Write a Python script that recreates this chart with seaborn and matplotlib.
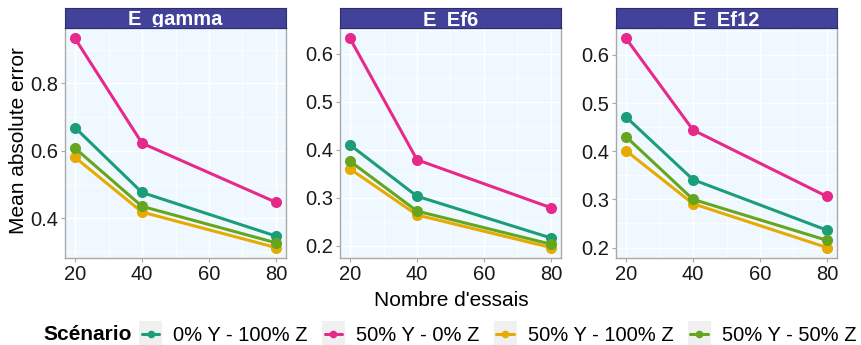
import numpy as np
import pandas as pd
import matplotlib
matplotlib.use("Agg")
import matplotlib.pyplot as plt
from matplotlib.lines import Line2D
from matplotlib.patches import Rectangle
from matplotlib.legend_handler import HandlerBase
from matplotlib.ticker import MultipleLocator
import seaborn as sns

sns.set_theme(style="white")
plt.rcParams["font.family"] = ["Liberation Sans", "DejaVu Sans"]
plt.rcParams["text.color"] = "black"

# Data
essais = [20, 40, 80]
panels = ["E_gamma", "E_Ef6", "E_Ef12"]
scenarios = ["0% Y - 100% Z", "50% Y - 0% Z", "50% Y - 100% Z", "50% Y - 50% Z"]
colors = ["#1B9E77", "#E7298A", "#E6AB02", "#66A61E"]

gamma_0Y_100Z = [0.669, 0.477, 0.348]
gamma_50Y_0Z = [0.933, 0.623, 0.448]
gamma_50Y_100Z = [0.581, 0.419, 0.314]
gamma_50Y_50Z = [0.608, 0.436, 0.328]

ef6_0Y_100Z = [0.410, 0.303, 0.216]
ef6_50Y_0Z = [0.632, 0.379, 0.279]
ef6_50Y_100Z = [0.360, 0.264, 0.196]
ef6_50Y_50Z = [0.376, 0.272, 0.203]

ef12_0Y_100Z = [0.471, 0.341, 0.236]
ef12_50Y_0Z = [0.634, 0.444, 0.306]
ef12_50Y_100Z = [0.401, 0.291, 0.200]
ef12_50Y_50Z = [0.430, 0.300, 0.215]

series = {
    "E_gamma": [gamma_0Y_100Z, gamma_50Y_0Z, gamma_50Y_100Z, gamma_50Y_50Z],
    "E_Ef6": [ef6_0Y_100Z, ef6_50Y_0Z, ef6_50Y_100Z, ef6_50Y_50Z],
    "E_Ef12": [ef12_0Y_100Z, ef12_50Y_0Z, ef12_50Y_100Z, ef12_50Y_50Z],
}

rows = []
for p in panels:
    for s, vals in zip(scenarios, series[p]):
        for x, v in zip(essais, vals):
            rows.append({"panel": p, "Scénario": s, "essais": x, "mae": v})
df = pd.DataFrame(rows)

W, H = 862, 345
fig = plt.figure(figsize=(W / 100, H / 100), dpi=100)


def px_axes(x0, y0, x1, y1):
    return fig.add_axes([x0 / W, 1 - y1 / H, (x1 - x0) / W, (y1 - y0) / H])


panel_x = [(65, 286), (340, 561), (616, 837)]
top, bottom = 28, 258
strip_top = 8
palette = dict(zip(scenarios, colors))
border = "#A9A9A9"

for (x0, x1), p in zip(panel_x, panels):
    ax = px_axes(x0, top, x1, bottom)
    ax.set_facecolor("#F0F8FF")
    sub = df[df["panel"] == p]
    sns.lineplot(data=sub, x="essais", y="mae", hue="Scénario", palette=palette,
                 hue_order=scenarios, marker="o", markersize=8, markeredgewidth=0,
                 linewidth=2.2, legend=False, ax=ax, zorder=3)
    lo, hi = sub["mae"].min(), sub["mae"].max()
    pad = (hi - lo) * 0.05
    ax.set_ylim(lo - pad, hi + pad)
    ax.set_xlim(17, 83)
    ax.set_xticks([20, 40, 60, 80])
    ax.xaxis.set_minor_locator(MultipleLocator(10))
    if p == "E_gamma":
        ax.yaxis.set_major_locator(MultipleLocator(0.2))
        ax.yaxis.set_minor_locator(MultipleLocator(0.1))
    else:
        ax.yaxis.set_major_locator(MultipleLocator(0.1))
        ax.yaxis.set_minor_locator(MultipleLocator(0.05))
    ax.grid(which="major", color="white", linewidth=1.0, zorder=0)
    ax.grid(which="minor", color="white", linewidth=0.5, zorder=0)
    ax.set_axisbelow(True)
    for sp in ax.spines.values():
        sp.set_color(border)
        sp.set_linewidth(1.0)
    ax.tick_params(axis="both", which="major", length=3, width=0.8, color=border,
                   labelsize=14.5, labelcolor="#1A1A1A", pad=2, bottom=True, left=True)
    ax.tick_params(axis="both", which="minor", length=0)
    ax.set_xlabel("")
    ax.set_ylabel("")

    # facet strip
    st = px_axes(x0, strip_top, x1, top)
    st.set_facecolor("#43429A")
    st.set_xticks([])
    st.set_yticks([])
    for sp in st.spines.values():
        sp.set_color("#2E2E6E")
        sp.set_linewidth(0.8)
    t = st.text(0.5, 0.15, p, transform=st.transAxes, ha="center", va="baseline",
                color="white", fontsize=14.5, fontweight="bold")
    # label is cut off just under its baseline, like a tight facet strip
    clip = Rectangle((x0 / W, 1 - 27 / H), (x1 - x0) / W, 19 / H,
                     transform=fig.transFigure)
    t.set_clip_path(clip)
    t.set_clip_on(True)

fig.text(451 / W, 1 - 301 / H, "Nombre d'essais", ha="center", va="center",
         fontsize=15, color="black")
fig.text(19 / W, 1 - 141 / H, "Mean absolute error", ha="center", va="center",
         rotation=90, fontsize=15, color="black")


class KeyHandler(HandlerBase):
    def create_artists(self, legend, orig_handle, xdescent, ydescent, width,
                       height, fontsize, trans):
        c = orig_handle.get_color()
        box = Rectangle((-xdescent, -ydescent - 0.2 * height), width, height * 1.4,
                        facecolor="#F0F0F0", edgecolor="none", transform=trans)
        yc = -ydescent + height / 2
        ln = Line2D([-xdescent + 2, -xdescent + width - 2], [yc, yc], color=c,
                    linewidth=2.2, transform=trans)
        mk = Line2D([-xdescent + width / 2], [yc], color=c, marker="o",
                    markersize=5.5, markeredgewidth=0, linestyle="none",
                    transform=trans)
        return [box, ln, mk]


fig.text(43 / W, 1 - 335 / H, "Scénario", ha="left", va="center",
         fontsize=15, fontweight="bold", color="black")
handles = [Line2D([0], [0], color=c) for c in colors]
leg = fig.legend(handles, scenarios, loc="center left",
                 bbox_to_anchor=(139 / W, 1 - 335 / H), ncol=4, frameon=False,
                 fontsize=14.5, handlelength=1.15, handleheight=1.0,
                 handletextpad=0.55, columnspacing=0.7, borderpad=0,
                 borderaxespad=0, handler_map={Line2D: KeyHandler()})
for txt in leg.get_texts():
    txt.set_color("black")

fig.savefig("out.png", dpi=100)
